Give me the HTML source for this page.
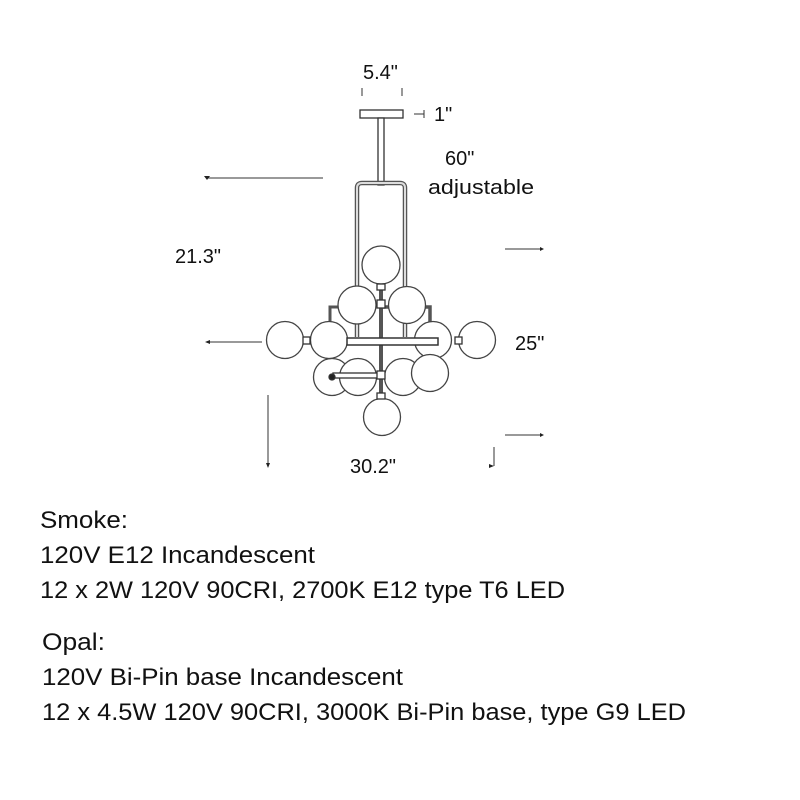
<!DOCTYPE html>
<html><head><meta charset="utf-8"><style>
html,body{margin:0;padding:0;background:#fff;}
svg{display:block;}
text{font-family:"Liberation Sans",sans-serif;fill:#111;}
</style></head><body>
<svg width="800" height="800" viewBox="0 0 800 800" xmlns="http://www.w3.org/2000/svg">
<g stroke="#333" fill="none" stroke-width="1.3">
<rect x="360" y="110" width="43" height="8" fill="#fff"/>
<rect x="378" y="118" width="6" height="67" fill="#fff"/>
<path d="M357 337 V188 Q357 183 362 183 H400 Q405 183 405 188 V337" stroke-width="4.5" stroke="#555"/>
<path d="M357 337 V188 Q357 183 362 183 H400 Q405 183 405 188 V337" stroke-width="2" stroke="#ddd"/>
<line x1="381" y1="280" x2="381" y2="400" stroke-width="4" stroke="#555"/>
<path d="M380 307 H430 V340" stroke-width="3.5" stroke="#555"/>
<path d="M330 340 V307 H340" stroke-width="3" stroke="#555"/>
<path d="M330 342 V375 H380" stroke-width="3.5" stroke="#555"/>
<g fill="#fff" stroke="#444">
<circle cx="407" cy="305" r="18.5"/>
<circle cx="433" cy="340" r="18.5"/>
<circle cx="332" cy="377" r="18.5"/>
<circle cx="403" cy="377" r="18.5"/>
<circle cx="381" cy="265" r="19"/>
<circle cx="357" cy="305" r="19"/>
<circle cx="285" cy="340" r="18.5"/>
<circle cx="329" cy="340" r="18.5"/>
<circle cx="477" cy="340" r="18.5"/>
<circle cx="358" cy="377" r="18.5"/>
<circle cx="430" cy="373" r="18.5"/>
<circle cx="382" cy="417" r="18.5"/>
</g>
<rect x="347" y="338" width="91" height="7" fill="#fff" stroke-width="1.5"/>
<rect x="333" y="373" width="47" height="5" fill="#fff" stroke-width="1.3"/>
<circle cx="332" cy="377" r="3" fill="#222"/>
<g fill="#fff">
<rect x="377" y="284" width="8" height="6"/><rect x="377" y="300" width="8" height="8"/>
<rect x="303" y="337" width="7" height="7"/><rect x="455" y="337" width="7" height="7"/>
<rect x="377" y="371" width="8" height="8"/><rect x="377" y="393" width="8" height="6"/>
</g>
</g>
<g stroke="#333" stroke-width="1">
<line x1="362" y1="88" x2="362" y2="96"/><line x1="402" y1="88" x2="402" y2="96"/>
<line x1="414" y1="114" x2="424" y2="114"/><line x1="424" y1="110" x2="424" y2="118"/>
<line x1="207" y1="178" x2="323" y2="178"/>
<line x1="505" y1="249" x2="543" y2="249"/>
<line x1="207" y1="342" x2="262" y2="342"/>
<line x1="505" y1="435" x2="543" y2="435"/>
<line x1="268" y1="395" x2="268" y2="466"/>
<line x1="494" y1="447" x2="494" y2="466"/>
</g>
<g fill="#222">
<polygon points="207,176 210,180 204,180" transform="rotate(180 207 178)"/>
<polygon points="540,247 544,249 540,251"/>
<polygon points="205,342 210,340 210,344"/>
<polygon points="540,433 544,435 540,437"/>
<polygon points="266,463 270,463 268,468"/>
<polygon points="494,466 489,464 489,468"/>
</g>
<text x="363" y="79" font-size="20">5.4"</text>
<text x="434" y="121" font-size="20">1"</text>
<text x="445" y="165" font-size="20">60"</text>
<text x="428" y="194" font-size="20" textLength="106" lengthAdjust="spacingAndGlyphs">adjustable</text>
<text x="175" y="263" font-size="20">21.3"</text>
<text x="515" y="350" font-size="20">25"</text>
<text x="350" y="473" font-size="20">30.2"</text>
<g font-size="24">
<text x="40" y="528" textLength="88" lengthAdjust="spacingAndGlyphs">Smoke:</text>
<text x="40" y="563" textLength="275" lengthAdjust="spacingAndGlyphs">120V E12 Incandescent</text>
<text x="40" y="598" textLength="525" lengthAdjust="spacingAndGlyphs">12 x 2W 120V 90CRI, 2700K E12 type T6 LED</text>
<text x="42" y="650" textLength="63" lengthAdjust="spacingAndGlyphs">Opal:</text>
<text x="42" y="685" textLength="361" lengthAdjust="spacingAndGlyphs">120V Bi-Pin base Incandescent</text>
<text x="42" y="720" textLength="644" lengthAdjust="spacingAndGlyphs">12 x 4.5W 120V 90CRI, 3000K Bi-Pin base, type G9 LED</text>
</g>
</svg>
</body></html>
